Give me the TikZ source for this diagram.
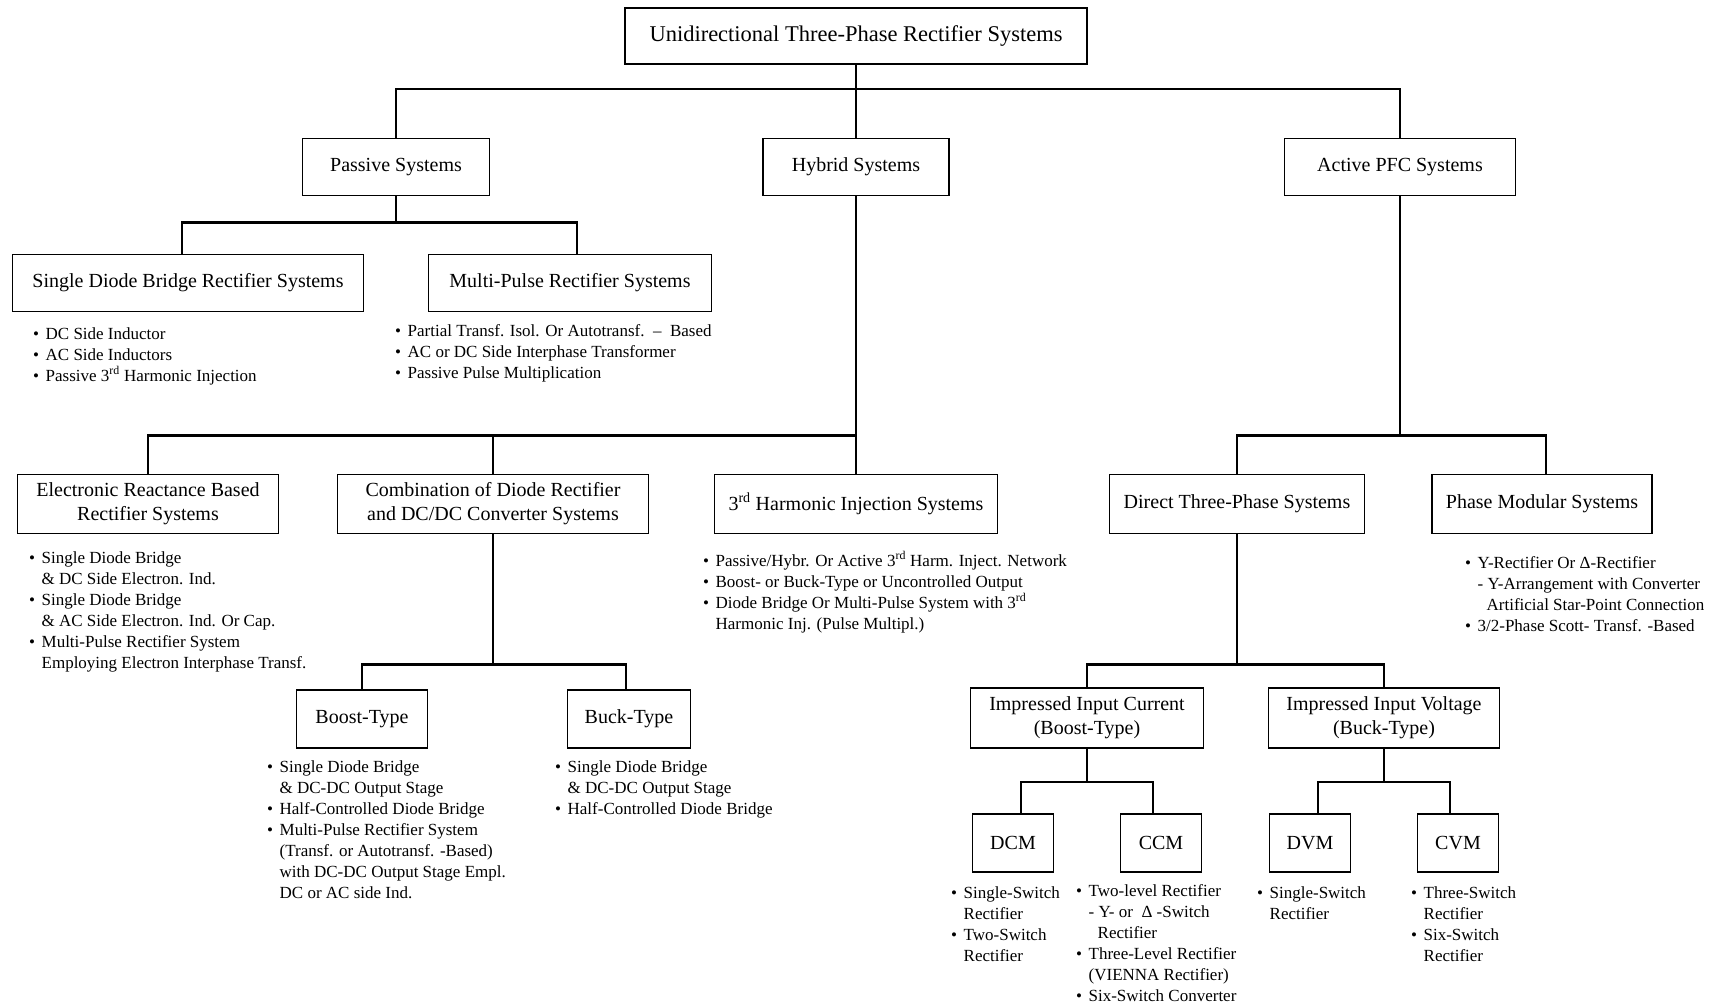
\documentclass[tikz,border=0pt]{standalone}
\usepackage{fontspec}
\setmainfont{Liberation Serif}
\usepackage{tikz}
\newcommand{\bitems}[1]{\begin{tabular}[t]{@{}l@{\hspace{6.5pt}}l@{}}#1\end{tabular}}
\newcommand{\rd}{\textsuperscript{rd}}

\begin{document}
\begin{tikzpicture}[x=1pt,y=-1pt,
    box/.style={draw,line width=1.8pt,minimum height=57pt,inner sep=2pt,align=center,font=\fontsize{20}{24}\selectfont},
    link/.style={line width=2.6pt},
    list/.style={anchor=base west,inner sep=0pt,font=\fontsize{17}{21}\selectfont}]
\useasboundingbox (0,0) rectangle (1722,1006);
% boxes
\node[box,minimum width=462pt,minimum height=56pt,font=\fontsize{22.5}{27}\selectfont] (top) at (856,36) {Unidirectional Three-Phase Rectifier Systems};
\node[box,minimum width=187pt] (passive) at (396,167) {Passive Systems};
\node[box,minimum width=186pt] (hybrid) at (856,167) {Hybrid Systems};
\node[box,minimum width=231pt] (active) at (1400,167) {Active PFC Systems};
\node[box,minimum width=351pt] (sdb) at (188,283) {Single Diode Bridge Rectifier Systems};
\node[box,minimum width=283pt] (mpr) at (570,283) {Multi-Pulse Rectifier Systems};
\node[box,minimum width=261pt,minimum height=59pt] (erb) at (148,504) {Electronic Reactance Based\\Rectifier Systems};
\node[box,minimum width=311pt,minimum height=59pt] (comb) at (493,504) {Combination of Diode Rectifier\\and DC/DC Converter Systems};
\node[box,minimum width=283pt,minimum height=59pt] (thi) at (856,504) {3\rd{} Harmonic Injection Systems};
\node[box,minimum width=255pt,minimum height=59pt] (direct) at (1237,504) {Direct Three-Phase Systems};
\node[box,minimum width=220pt,minimum height=59pt] (pms) at (1542,504) {Phase Modular Systems};
\node[box,minimum width=131pt,minimum height=58pt] (boost) at (362,719) {Boost-Type};
\node[box,minimum width=123pt,minimum height=58pt] (buck) at (629,719) {Buck-Type};
\node[box,minimum width=233pt,minimum height=60pt] (iic) at (1087,718) {Impressed Input Current\\(Boost-Type)};
\node[box,minimum width=231pt,minimum height=60pt] (iiv) at (1384,718) {Impressed Input Voltage\\(Buck-Type)};
\node[box,minimum width=81pt,minimum height=58pt] (dcm) at (1013,843) {DCM};
\node[box,minimum width=81pt,minimum height=58pt] (ccm) at (1161,843) {CCM};
\node[box,minimum width=81pt,minimum height=58pt] (dvm) at (1310,843) {DVM};
\node[box,minimum width=81pt,minimum height=58pt] (cvm) at (1458,843) {CVM};
% connectors
\draw[link] (top.south) -- ++(0,24) -| (passive.north);
\draw[link] (top.south) -- ++(0,24) -| (active.north);
\draw[link] (top.south) -- (hybrid.north);
\draw[link] (passive.south) -- ++(0,26) -| ([xshift=-6pt]sdb.north);
\draw[link] (passive.south) -- ++(0,26) -| ([xshift=7pt]mpr.north);
\draw[link] (hybrid.south) -- ++(0,239) -| (erb.north);
\draw[link] (hybrid.south) -- ++(0,239) -| (comb.north);
\draw[link] (hybrid.south) -- (thi.north);
\draw[link] (active.south) -- ++(0,239) -| (direct.north);
\draw[link] (active.south) -- ++(0,239) -| ([xshift=4pt]pms.north);
\draw[link] (comb.south) -- ++(0,130) -| (boost.north);
\draw[link] (comb.south) -- ++(0,130) -| ([xshift=-3pt]buck.north);
\draw[link] (direct.south) -- ++(0,130) -| (iic.north);
\draw[link] (direct.south) -- ++(0,130) -| (iiv.north);
\draw[link] (iic.south) -- ++(0,33) -| ([xshift=8pt]dcm.north);
\draw[link] (iic.south) -- ++(0,33) -| ([xshift=-8pt]ccm.north);
\draw[link] (iiv.south) -- ++(0,33) -| ([xshift=8pt]dvm.north);
\draw[link] (iiv.south) -- ++(0,33) -| ([xshift=-8pt]cvm.north);
% bullet lists
\node[list] (sdbl) at (33,339) {\bitems{\textbullet & DC Side Inductor\\ \textbullet & AC Side Inductors\\ \textbullet & Passive 3\rd{} Harmonic Injection}};
\node[list] (mprl) at (395,336) {\bitems{\textbullet & Partial Transf. Isol. Or Autotransf.~~–~~Based\\ \textbullet & AC or DC Side Interphase Transformer\\ \textbullet & Passive Pulse Multiplication}};
\node[list] (erbl) at (29,563) {\bitems{\textbullet & Single Diode Bridge\\ & \& DC Side Electron. Ind.\\ \textbullet & Single Diode Bridge\\ & \& AC Side Electron. Ind. Or Cap.\\ \textbullet & Multi-Pulse Rectifier System\\ & Employing Electron Interphase Transf.}};
\node[list] (thil) at (703,566) {\bitems{\textbullet & Passive/Hybr. Or Active 3\rd{} Harm. Inject. Network\\ \textbullet & Boost- or Buck-Type or Uncontrolled Output\\ \textbullet & Diode Bridge Or Multi-Pulse System with 3\rd\\ & Harmonic Inj. (Pulse Multipl.)}};
\node[list] (pmsl) at (1465,568) {\bitems{\textbullet & Y-Rectifier Or Δ-Rectifier\\ & - Y-Arrangement with Converter\\ & \hspace{9pt}Artificial Star-Point Connection\\ \textbullet & 3/2-Phase Scott- Transf. -Based}};
\node[list] (boostl) at (267,772) {\bitems{\textbullet & Single Diode Bridge\\ & \& DC-DC Output Stage\\ \textbullet & Half-Controlled Diode Bridge\\ \textbullet & Multi-Pulse Rectifier System\\ & (Transf. or Autotransf. -Based)\\ & with DC-DC Output Stage Empl.\\ & DC or AC side Ind.}};
\node[list] (buckl) at (555,772) {\bitems{\textbullet & Single Diode Bridge\\ & \& DC-DC Output Stage\\ \textbullet & Half-Controlled Diode Bridge}};
\node[list] (dcml) at (951,898) {\bitems{\textbullet & Single-Switch\\ & Rectifier\\ \textbullet & Two-Switch\\ & Rectifier}};
\node[list] (ccml) at (1076,896) {\bitems{\textbullet & Two-level Rectifier\\ & - Y- or~~Δ -Switch\\ & \hspace{9pt}Rectifier\\ \textbullet & Three-Level Rectifier\\ & (VIENNA Rectifier)\\ \textbullet & Six-Switch Converter}};
\node[list] (dvml) at (1257,898) {\bitems{\textbullet & Single-Switch\\ & Rectifier}};
\node[list] (cvml) at (1411,898) {\bitems{\textbullet & Three-Switch\\ & Rectifier\\ \textbullet & Six-Switch\\ & Rectifier}};
\end{tikzpicture}
\end{document}
